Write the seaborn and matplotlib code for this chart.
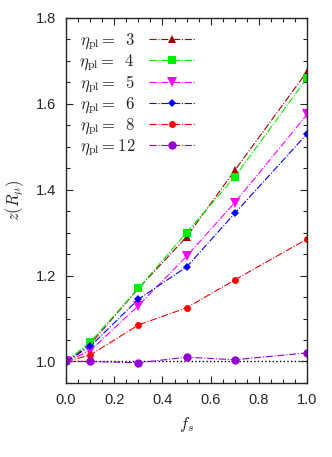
import numpy as np
import pandas as pd
import matplotlib
matplotlib.use("Agg")
import matplotlib.pyplot as plt
import seaborn as sns
from matplotlib.ticker import MultipleLocator

# データ
fs = [0.0, 0.1, 0.3, 0.5, 0.7, 1.0]
eta_labels = ['3', '4', '5', '6', '8', '12']
z_eta3 = [1.0, 1.040, 1.170, 1.290, 1.445, 1.675]
z_eta4 = [1.0, 1.045, 1.170, 1.300, 1.430, 1.660]
z_eta5 = [1.0, 1.025, 1.130, 1.245, 1.370, 1.575]
z_eta6 = [1.0, 1.035, 1.145, 1.220, 1.345, 1.530]
z_eta8 = [1.0, 1.015, 1.085, 1.125, 1.190, 1.285]
z_eta12 = [1.0, 1.000, 0.997, 1.010, 1.004, 1.020]

series = [z_eta3, z_eta4, z_eta5, z_eta6, z_eta8, z_eta12]
colors = ['#a00000', '#00ee00', '#ff00ff', '#0000ff', '#ff0000', '#9400d3']
markers = ['^', 's', 'v', 'D', 'o', 'o']
msizes = [6, 6, 6.5, 4.5, 5, 6]

sns.set_style("ticks")
plt.rcParams['font.family'] = ['Liberation Sans', 'DejaVu Sans']
plt.rcParams['mathtext.fontset'] = 'cm'

fig = plt.figure(figsize=(3.32, 4.57), dpi=100)
ax = fig.add_axes([0.199, 0.162, 0.726, 0.799])

for lab, vals, c, m, ms in zip(eta_labels, series, colors, markers, msizes):
    df = pd.DataFrame({'fs': fs, 'z': vals})
    num = lab if len(lab) == 2 else r'\;\;' + lab
    sns.lineplot(data=df, x='fs', y='z', ax=ax, color=c, marker=m,
                 markersize=ms, markeredgewidth=0, linewidth=0.8,
                 linestyle='-.', label=r'$\eta_{\rm pl} = ' + num + '$')

ax.axhline(1.0, color='black', linestyle=':', linewidth=1.0, zorder=0)

ax.set_xlim(0.0, 1.0)
ax.set_ylim(0.95, 1.8)
ax.xaxis.set_major_locator(MultipleLocator(0.2))
ax.xaxis.set_minor_locator(MultipleLocator(0.05))
ax.yaxis.set_major_locator(MultipleLocator(0.2))
ax.yaxis.set_minor_locator(MultipleLocator(0.05))
ax.xaxis.set_major_formatter(matplotlib.ticker.FormatStrFormatter('%.1f'))
ax.yaxis.set_major_formatter(matplotlib.ticker.FormatStrFormatter('%.1f'))
ax.tick_params(which='both', direction='in', top=True, right=True, labelsize=10.5, pad=7)
ax.tick_params(which='major', length=5, width=0.8)
ax.tick_params(which='minor', length=3, width=0.8)
for s in ax.spines.values():
    s.set_linewidth(1.0)

ax.set_xlabel(r'$f_s$', fontsize=12, labelpad=6)
ax.set_ylabel(r'$z(R_\mu)$', fontsize=12, labelpad=7)

leg = ax.legend(loc='upper left', frameon=False, markerfirst=False,
                fontsize=12, handlelength=2.8, labelspacing=0.02,
                borderaxespad=0.4, handletextpad=0.8)

fig.savefig('out.png', dpi=100)
